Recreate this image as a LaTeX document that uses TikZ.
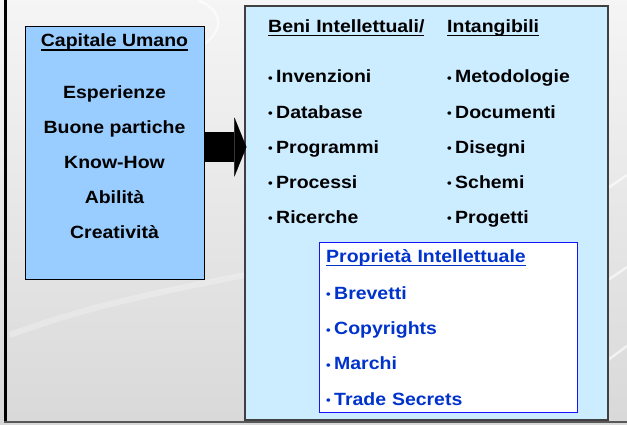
\documentclass[tikz,border=0pt]{standalone}
\usepackage{fontspec}
\setmainfont{Liberation Sans}[FakeStretch=1.1]
\usetikzlibrary{positioning, arrows.meta, calc}
\definecolor{umanoblue}{RGB}{153,204,255}
\definecolor{benibg}{RGB}{204,236,255}
\definecolor{ipframe}{RGB}{20,20,255}
\definecolor{iptext}{RGB}{0,51,204}
\newsavebox{\ulbox}
\newcommand{\undl}[1]{\sbox{\ulbox}{#1}\rlap{\rule[-3.8pt]{\wd\ulbox}{1.6pt}}\usebox{\ulbox}}
\newcommand{\bul}{\makebox[8pt][l]{\raisebox{0.8pt}{\fontsize{12}{12}\selectfont •}}}

\begin{document}
\begin{tikzpicture}[
    x=1pt, y=-1pt,
    node distance=18.7pt,
    txt/.style={inner sep=0pt, text height=12pt, text depth=4pt, font=\fontsize{17.7}{20}\selectfont\bfseries},
    cen/.style={txt, align=center},
    col/.style={txt, text width=165pt, align=left},
    ipcol/.style={col, text=iptext},
    umano/.style={draw=black, line width=0.8pt, fill=umanoblue, inner sep=0pt, minimum width=179pt, minimum height=253pt},
    beni/.style={draw=black!75, line width=1.2pt, fill=benibg, inner sep=0pt, minimum width=363pt, minimum height=414pt},
    ipbox/.style={draw=ipframe, line width=0.8pt, fill=white, inner sep=0pt, minimum width=258pt, minimum height=170pt},
    swoosh/.style={white, line width=2.5pt, opacity=0.6},
    bigarrow/.style={line width=30pt, -{Triangle[length=12pt, width=59pt, line width=0.1pt]}}
]
\useasboundingbox (0,0) rectangle (627,424);

% background of the slide
\shade[top color=gray!8, bottom color=gray!30] (0,0) rectangle (627,424);
\draw[swoosh] (198,0) .. controls (226,12) and (222,32) .. (204,44);
\draw[swoosh, opacity=0.25, line width=6pt] (10,335) .. controls (90,305) and (170,290) .. (245,275);
\draw[swoosh] (608,188) -- (627,175);
\draw[swoosh] (608,280) -- (627,267);
\draw[swoosh] (608,360) -- (627,346);
\draw[line width=2.6pt] (5.3,0) -- (5.3,422);
\draw[line width=1.4pt, black!65] (4,422) -- (627,422);

% boxes
\node[umano] (umano) at (114.5,152.5) {};
\node[beni] (beni) at (426.5,213) {};
\node[ipbox] (ip) at (448,327) {};

% capitale umano
\node[cen, anchor=base] (capitale) at (114.5,46.7) {\undl{Capitale Umano}};
\node[cen, below=35pt of capitale] (esperienze) {Esperienze};
\node[cen, below=of esperienze] (buone) {Buone partiche};
\node[cen, below=of buone] (knowhow) {Know-How};
\node[cen, below=of knowhow] (abilita) {Abilità};
\node[cen, below=of abilita] (creativita) {Creatività};

% beni intellettuali / intangibili
\node[col, anchor=base west] (beniT) at (268,32.5) {\undl{Beni Intellettuali/}};
\node[col, below=34pt of beniT] (invenzioni) {\bul Invenzioni};
\node[col, below=of invenzioni] (database) {\bul Database};
\node[col, below=of database] (programmi) {\bul Programmi};
\node[col, below=of programmi] (processi) {\bul Processi};
\node[col, below=of processi] (ricerche) {\bul Ricerche};

\node[col, anchor=base west] (intangT) at (447,32.5) {\undl{Intangibili}};
\node[col, below=34pt of intangT] (metodologie) {\bul Metodologie};
\node[col, below=of metodologie] (documenti) {\bul Documenti};
\node[col, below=of documenti] (disegni) {\bul Disegni};
\node[col, below=of disegni] (schemi) {\bul Schemi};
\node[col, below=of schemi] (progetti) {\bul Progetti};

% proprieta intellettuale
\node[ipcol, anchor=base west] (proprieta) at (326,262.3) {\undl{Proprietà Intellettuale}};
\node[ipcol, below=21pt of proprieta] (brevetti) {\bul Brevetti};
\node[ipcol, below=of brevetti] (copyrights) {\bul Copyrights};
\node[ipcol, below=of copyrights] (marchi) {\bul Marchi};
\node[ipcol, below=of marchi] (secrets) {\bul Trade Secrets};

\draw[bigarrow] ($(umano.east)+(0,-5.5)$) -- ($(umano.east -| beni.west)+(2,-5.5)$);

\end{tikzpicture}
\end{document}
